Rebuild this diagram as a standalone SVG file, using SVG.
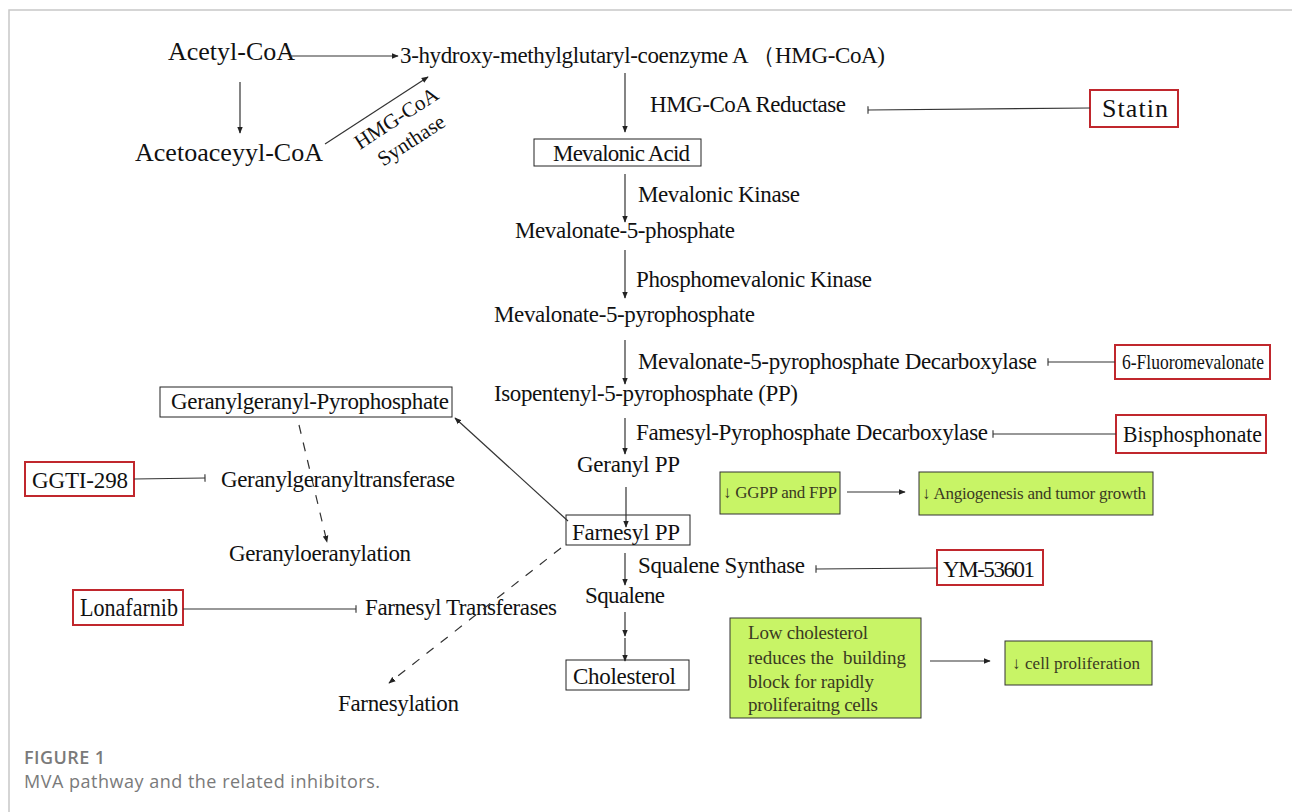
<svg xmlns="http://www.w3.org/2000/svg" width="1292" height="812" viewBox="0 0 1292 812">
<defs>
<marker id="arr" viewBox="0 0 10 10" refX="9" refY="5" markerWidth="7" markerHeight="7" markerUnits="userSpaceOnUse" orient="auto"><path d="M0,1 L10,5 L0,9 Z" fill="#222"/></marker>
<marker id="tee" viewBox="0 0 4 10" refX="2" refY="5" markerWidth="3" markerHeight="9" markerUnits="userSpaceOnUse" orient="auto"><path d="M2,0 L2,10" stroke="#333" stroke-width="1.5"/></marker>
</defs>
<style>
.t{font-family:"Liberation Serif","Times New Roman",serif;font-size:23px;fill:#111}
.big{font-size:26px}
.g{font-family:"Liberation Serif","Times New Roman",serif;font-size:17px;fill:#3a3a22}
.gb{font-size:19px}
.box{fill:#fff;stroke:#222;stroke-width:1}
.red{fill:#fff;stroke:#c0272d;stroke-width:2}
.grn{fill:#c8f466;stroke:#333;stroke-width:1}
.c{fill:none;stroke:#333;stroke-width:1.2}
.a{marker-end:url(#arr)}
.i{marker-end:url(#tee)}
.d{stroke-dasharray:9 9}
.cap{font-family:"Open Sans","Noto Sans",sans-serif;font-size:18px;fill:#7a7a7a}
</style>
<rect width="1292" height="812" fill="#fff"/>
<path d="M9,812 L9,10 L1292,10" fill="none" stroke="#c8c8c8" stroke-width="1.5"/>

<g id="acetyl"><text class="t big" x="168" y="60" textLength="127">Acetyl-CoA</text></g>
<g id="hmgcoa"><text class="t" x="400" y="63" textLength="485">3-hydroxy-methylglutaryl-coenzyme A （HMG-CoA)</text></g>
<g id="acetoacetyl"><text class="t big" x="135" y="161" textLength="188">Acetoaceyyl-CoA</text></g>
<g id="synthase">
<text class="t" style="font-size:21px" text-anchor="middle" transform="translate(400,124) rotate(-33)">HMG-CoA</text>
<text class="t" style="font-size:21px" text-anchor="middle" transform="translate(415,146) rotate(-33)">Synthase</text>
</g>
<g id="reductase"><text class="t" x="650" y="112" textLength="196">HMG-CoA Reductase</text></g>
<g id="statin"><rect class="red" x="1090" y="90" width="88" height="37"/><text class="t big" x="1102" y="117" textLength="66">Statin</text></g>
<g id="mevalonic-acid"><rect class="box" x="534" y="139" width="167" height="27"/><text class="t" x="553" y="161" textLength="137">Mevalonic Acid</text></g>
<g id="mev-kinase"><text class="t" x="638" y="202" textLength="162">Mevalonic Kinase</text></g>
<g id="mev5p"><text class="t" x="515" y="238" textLength="220">Mevalonate-5-phosphate</text></g>
<g id="pmk"><text class="t" x="636" y="287" textLength="236">Phosphomevalonic Kinase</text></g>
<g id="mev5pp"><text class="t" x="494" y="322" textLength="261">Mevalonate-5-pyrophosphate</text></g>
<g id="mpd"><text class="t" x="638" y="369" textLength="399">Mevalonate-5-pyrophosphate Decarboxylase</text></g>
<g id="fluoro"><rect class="red" x="1115" y="345" width="155" height="34"/><text class="t" style="font-size:21px" x="1122" y="369" textLength="142" lengthAdjust="spacingAndGlyphs">6-Fluoromevalonate</text></g>
<g id="ipp"><text class="t" x="494" y="401" textLength="304">Isopentenyl-5-pyrophosphate (PP)</text></g>
<g id="fpd"><text class="t" x="636" y="440" textLength="352">Famesyl-Pyrophosphate Decarboxylase</text></g>
<g id="bisphos"><rect class="red" x="1116" y="415" width="150" height="38"/><text class="t" style="font-size:24px" x="1123" y="442" textLength="139" lengthAdjust="spacingAndGlyphs">Bisphosphonate</text></g>
<g id="geranylpp"><text class="t" x="577" y="472" textLength="103">Geranyl PP</text></g>
<g id="farnesylpp"><rect class="box" x="566" y="515" width="124" height="30"/><text class="t" x="572" y="540" textLength="108">Farnesyl PP</text></g>
<g id="ggpp-fpp"><rect class="grn" x="720" y="472" width="120" height="42"/><text class="g" x="723" y="498" textLength="114">↓ GGPP and FPP</text></g>
<g id="angio"><rect class="grn" x="919" y="472" width="234" height="43"/><text class="g" x="922" y="499" textLength="224">↓ Angiogenesis and tumor growth</text></g>
<g id="sqs"><text class="t" x="638" y="573" textLength="167">Squalene Synthase</text></g>
<g id="ym"><rect class="red" x="937" y="550" width="106" height="35"/><text class="t" x="943" y="577" textLength="92">YM-53601</text></g>
<g id="squalene"><text class="t" x="585" y="603" textLength="80">Squalene</text></g>
<g id="cholesterol"><rect class="box" x="566" y="660" width="123" height="30"/><text class="t" x="573" y="684" textLength="103">Cholesterol</text></g>
<g id="lowchol"><rect class="grn" x="730" y="618" width="191" height="100"/>
<text class="g gb" x="748" y="639" textLength="120">Low cholesterol</text>
<text class="g gb" x="748" y="664" textLength="158" xml:space="preserve">reduces the  building</text>
<text class="g gb" x="748" y="688" textLength="126">block for rapidly</text>
<text class="g gb" x="748" y="711" textLength="130">proliferaitng cells</text>
</g>
<g id="cellprolif"><rect class="grn" x="1005" y="641" width="147" height="44"/><text class="g" x="1012" y="669" textLength="128">↓ cell proliferation</text></g>
<g id="ggpp"><rect class="box" x="160" y="387" width="292" height="30"/><text class="t" x="171" y="409" textLength="278">Geranylgeranyl-Pyrophosphate</text></g>
<g id="ggti"><rect class="red" x="25" y="462" width="109" height="34"/><text class="t" x="32" y="488" textLength="96">GGTI-298</text></g>
<g id="ggt"><text class="t" x="221" y="487" textLength="234">Geranylgeranyltransferase</text></g>
<g id="ggylation"><text class="t" x="229" y="561" textLength="182">Geranyloeranylation</text></g>
<g id="lonafarnib"><rect class="red" x="73" y="590" width="110" height="35"/><text class="t big" x="80" y="616" textLength="98" lengthAdjust="spacingAndGlyphs">Lonafarnib</text></g>
<g id="fts"><text class="t" x="365" y="615" textLength="192">Farnesyl Transferases</text></g>
<g id="farnesylation"><text class="t" x="338" y="711" textLength="121">Farnesylation</text></g>

<g id="connectors">
<line class="c a" x1="290" y1="56" x2="398" y2="56"/>
<line class="c a" x1="240" y1="82" x2="240" y2="133"/>
<line class="c a" x1="325" y1="144" x2="428" y2="77"/>
<line class="c a" x1="625" y1="73" x2="625" y2="132"/>
<line class="c i" x1="1090" y1="108" x2="868" y2="110"/>
<line class="c a" x1="625" y1="174" x2="625" y2="222"/>
<line class="c a" x1="625" y1="250" x2="625" y2="298"/>
<line class="c a" x1="625" y1="340" x2="625" y2="384"/>
<line class="c i" x1="1115" y1="362" x2="1048" y2="362"/>
<line class="c a" x1="625" y1="418" x2="625" y2="454"/>
<line class="c i" x1="1116" y1="434" x2="993" y2="434"/>
<line class="c a" x1="626" y1="487" x2="626" y2="527"/>
<line class="c a" x1="568" y1="521" x2="455" y2="418"/>
<line class="c a" x1="847" y1="492" x2="905" y2="492"/>
<line class="c i" x1="937" y1="568" x2="816" y2="569"/>
<line class="c a" x1="625" y1="553" x2="625" y2="585"/>
<line class="c a" x1="625" y1="612" x2="625" y2="636"/>
<line class="c a" x1="625" y1="638" x2="625" y2="661"/>
<line class="c a" x1="930" y1="661" x2="990" y2="661"/>
<line class="c i" x1="134" y1="479" x2="205" y2="478"/>
<line class="c d a" x1="299" y1="425" x2="327" y2="542"/>
<line class="c i" x1="183" y1="609" x2="356" y2="609"/>
<line class="c d a" x1="561" y1="548" x2="389" y2="683"/>
</g>

<g id="caption">
<text class="cap" x="24" y="764" style="font-weight:600" textLength="81">FIGURE 1</text>
<text class="cap" x="24" y="788" textLength="356">MVA pathway and the related inhibitors.</text>
</g>
</svg>
